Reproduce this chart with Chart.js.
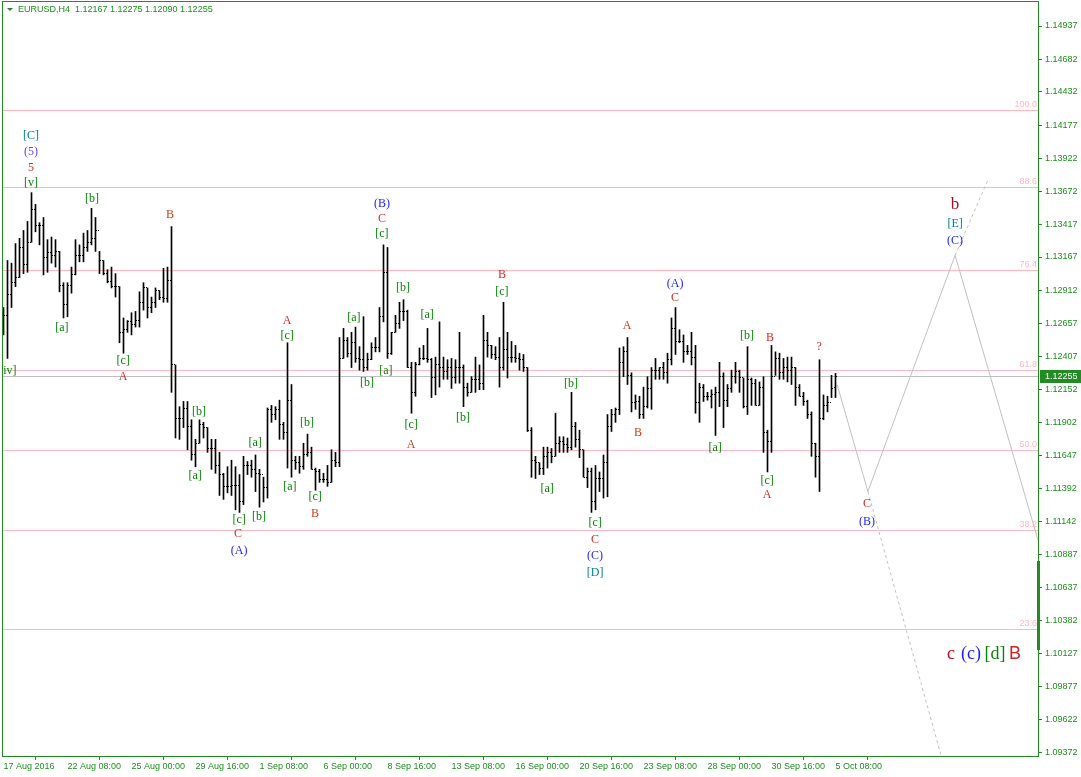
<!DOCTYPE html>
<html>
<head>
<meta charset="utf-8">
<title>EURUSD,H4</title>
<script src="https://cdn.jsdelivr.net/npm/chart.js@4.4.1/dist/chart.umd.min.js"></script>
<style>
  html, body { margin: 0; padding: 0; background: #fff; }
  #wrap { position: relative; width: 1081px; height: 777px; }
</style>
</head>
<body>
<div id="wrap"><canvas id="chart" width="1081" height="777"></canvas></div>
<script>
// Header
const headerText = 'EURUSD,H4  1.12167 1.12275 1.12090 1.12255';

// H4 bars, 17 Aug 16:00 .. 5 Oct 08:00
const opens = [
    1.1265, 1.1272, 1.1288, 1.1297, 1.1301, 1.1324, 1.1311, 1.1328, 1.1353, 1.1341,
    1.1341, 1.1316, 1.1320, 1.1318, 1.1321, 1.1295, 1.1280, 1.1295, 1.1303, 1.1318,
    1.1318, 1.1324, 1.1328, 1.1331, 1.1337, 1.1314, 1.1304, 1.1298, 1.1294, 1.1294,
    1.1259, 1.1261, 1.1267, 1.1265, 1.1268, 1.1282, 1.1293, 1.1278, 1.1282, 1.1291,
    1.1286, 1.1285, 1.1299, 1.1234, 1.1193, 1.1193, 1.1201, 1.1187, 1.1165, 1.1174,
    1.1188, 1.1186, 1.1170, 1.1170, 1.1157, 1.1150, 1.1141, 1.1141, 1.1142, 1.1142,
    1.1129, 1.1157, 1.1157, 1.1154, 1.1151, 1.1150, 1.1140, 1.1200, 1.1196, 1.1200,
    1.1188, 1.1182, 1.1207, 1.1161, 1.1159, 1.1156, 1.1165, 1.1167, 1.1154, 1.1152,
    1.1146, 1.1146, 1.1144, 1.1161, 1.1159, 1.1239, 1.1253, 1.1243, 1.1251, 1.1239,
    1.1238, 1.1232, 1.1238, 1.1247, 1.1247, 1.1271, 1.1305, 1.1243, 1.1259, 1.1266,
    1.1275, 1.1275, 1.1232, 1.1213, 1.1234, 1.1239, 1.1239, 1.1238, 1.1224, 1.1234,
    1.1232, 1.1229, 1.1232, 1.1224, 1.1232, 1.1232, 1.1217, 1.1213, 1.1223, 1.1223,
    1.1220, 1.1253, 1.1249, 1.1242, 1.1240, 1.1232, 1.1246, 1.1240, 1.1240, 1.1239,
    1.1238, 1.1232, 1.1184, 1.1161, 1.1159, 1.1155, 1.1164, 1.1167, 1.1164, 1.1174,
    1.1175, 1.1173, 1.1171, 1.1187, 1.1177, 1.1169, 1.1148, 1.1152, 1.1129, 1.1147,
    1.1147, 1.1159, 1.1187, 1.1196, 1.1200, 1.1236, 1.1244, 1.1226, 1.1205, 1.1206,
    1.1196, 1.1202, 1.1216, 1.1230, 1.1230, 1.1232, 1.1228, 1.1238, 1.1262, 1.1252,
    1.1252, 1.1244, 1.1244, 1.1240, 1.1205, 1.1217, 1.1210, 1.1210, 1.1211, 1.1213,
    1.1225, 1.1207, 1.1216, 1.1225, 1.1229, 1.1224, 1.1202, 1.1223, 1.1220, 1.1203,
    1.1217, 1.1182, 1.1175, 1.1225, 1.1239, 1.1228, 1.1232, 1.1230, 1.1232, 1.1217,
    1.1210, 1.1206, 1.1196, 1.1174, 1.1164, 1.1193, 1.1203, 1.1205, 1.12167
];
const highs = [
    1.1278, 1.1314, 1.1312, 1.1327, 1.1331, 1.1337, 1.1344, 1.1366, 1.1357, 1.1343,
    1.1347, 1.1330, 1.1332, 1.1330, 1.1321, 1.1297, 1.1297, 1.1309, 1.1330, 1.1326,
    1.1335, 1.1337, 1.1354, 1.1347, 1.1321, 1.1314, 1.1307, 1.1309, 1.1304, 1.1294,
    1.1270, 1.1268, 1.1274, 1.1275, 1.1290, 1.1297, 1.1293, 1.1286, 1.1293, 1.1291,
    1.1308, 1.1309, 1.1340, 1.1234, 1.1202, 1.1206, 1.1206, 1.1192, 1.1177, 1.1192,
    1.1190, 1.1186, 1.1177, 1.1177, 1.1167, 1.1151, 1.1156, 1.1161, 1.1156, 1.1150,
    1.1164, 1.1160, 1.1161, 1.1165, 1.1154, 1.1148, 1.1201, 1.1203, 1.1202, 1.1207,
    1.1190, 1.1251, 1.1219, 1.1164, 1.1164, 1.1174, 1.1181, 1.1171, 1.1155, 1.1154,
    1.1151, 1.1157, 1.1169, 1.1167, 1.1255, 1.1262, 1.1255, 1.1259, 1.1263, 1.1248,
    1.1271, 1.1243, 1.1251, 1.1255, 1.1278, 1.1326, 1.1324, 1.1259, 1.1272, 1.1282,
    1.1284, 1.1276, 1.1236, 1.1236, 1.1247, 1.1249, 1.1262, 1.1239, 1.1240, 1.1267,
    1.1240, 1.1238, 1.1239, 1.1238, 1.1259, 1.1234, 1.1220, 1.1225, 1.1240, 1.1234,
    1.1272, 1.1259, 1.1249, 1.1248, 1.1255, 1.1282, 1.1259, 1.1252, 1.1249, 1.1243,
    1.1242, 1.1232, 1.1186, 1.1164, 1.1159, 1.1171, 1.1171, 1.1170, 1.1197, 1.1179,
    1.1179, 1.1178, 1.1213, 1.1190, 1.1184, 1.1169, 1.1155, 1.1155, 1.1157, 1.1152,
    1.1165, 1.1196, 1.1200, 1.1201, 1.1247, 1.1248, 1.1255, 1.1228, 1.1211, 1.1210,
    1.1217, 1.1225, 1.1232, 1.1239, 1.1232, 1.1236, 1.1243, 1.1270, 1.1278, 1.1261,
    1.1257, 1.1249, 1.1259, 1.1249, 1.1220, 1.1219, 1.1213, 1.1215, 1.1217, 1.1236,
    1.1228, 1.1219, 1.1230, 1.1236, 1.1230, 1.1224, 1.1248, 1.1224, 1.1223, 1.1221,
    1.1225, 1.1184, 1.1249, 1.1244, 1.1243, 1.1239, 1.1240, 1.1240, 1.1232, 1.1219,
    1.1213, 1.1207, 1.1198, 1.1174, 1.1238, 1.1211, 1.1210, 1.1226, 1.12275
];
const lows = [
    1.1257, 1.1239, 1.1278, 1.1294, 1.1301, 1.1304, 1.1305, 1.1328, 1.1336, 1.1326,
    1.1303, 1.1305, 1.1312, 1.1309, 1.1290, 1.1270, 1.1271, 1.1289, 1.1303, 1.1313,
    1.1313, 1.1321, 1.1326, 1.1321, 1.1304, 1.1303, 1.1297, 1.1293, 1.1286, 1.1251,
    1.1243, 1.1259, 1.1257, 1.1263, 1.1263, 1.1276, 1.1270, 1.1274, 1.1278, 1.1284,
    1.1282, 1.1282, 1.1213, 1.1178, 1.1177, 1.1186, 1.1169, 1.1161, 1.1156, 1.1174,
    1.1178, 1.1167, 1.1154, 1.1151, 1.1134, 1.1131, 1.1136, 1.1134, 1.1123, 1.1121,
    1.1127, 1.1150, 1.1148, 1.1137, 1.1125, 1.1129, 1.1132, 1.1190, 1.1192, 1.1177,
    1.1177, 1.1155, 1.1148, 1.1154, 1.1151, 1.1154, 1.1164, 1.1154, 1.1138, 1.1144,
    1.1144, 1.1141, 1.1144, 1.1156, 1.1156, 1.1239, 1.1240, 1.1232, 1.1236, 1.1230,
    1.1229, 1.1230, 1.1238, 1.1244, 1.1244, 1.1267, 1.1239, 1.1242, 1.1259, 1.1262,
    1.1268, 1.1232, 1.1197, 1.1210, 1.1234, 1.1238, 1.1236, 1.1209, 1.1211, 1.1217,
    1.1223, 1.1223, 1.1216, 1.1220, 1.1220, 1.1202, 1.1210, 1.1213, 1.1213, 1.1215,
    1.1215, 1.1240, 1.1239, 1.1238, 1.1217, 1.1230, 1.1224, 1.1236, 1.1236, 1.1230,
    1.1229, 1.1183, 1.1148, 1.1147, 1.1150, 1.1150, 1.1155, 1.1159, 1.1164, 1.1167,
    1.1167, 1.1167, 1.1169, 1.1171, 1.1163, 1.1148, 1.1140, 1.1121, 1.1123, 1.1137,
    1.1132, 1.1133, 1.1183, 1.1190, 1.1196, 1.1225, 1.1219, 1.1198, 1.1200, 1.1193,
    1.1193, 1.1201, 1.1200, 1.1223, 1.1223, 1.1223, 1.1220, 1.1234, 1.1242, 1.1251,
    1.1236, 1.1242, 1.1234, 1.1197, 1.1190, 1.1206, 1.1207, 1.1201, 1.1180, 1.1202,
    1.1186, 1.1202, 1.1213, 1.1220, 1.1213, 1.1201, 1.1196, 1.1203, 1.1203, 1.1203,
    1.1167, 1.1152, 1.1167, 1.1226, 1.1223, 1.1223, 1.1221, 1.1219, 1.1203, 1.1210,
    1.1203, 1.1193, 1.1164, 1.1148, 1.1137, 1.1192, 1.1198, 1.1209, 1.12090
];
const closes = [
    1.1272, 1.1288, 1.1297, 1.1301, 1.1324, 1.1311, 1.1328, 1.1353, 1.1341, 1.1341,
    1.1316, 1.1320, 1.1318, 1.1321, 1.1295, 1.1280, 1.1295, 1.1303, 1.1318, 1.1318,
    1.1324, 1.1328, 1.1331, 1.1337, 1.1314, 1.1304, 1.1298, 1.1294, 1.1294, 1.1259,
    1.1261, 1.1267, 1.1265, 1.1268, 1.1282, 1.1293, 1.1278, 1.1282, 1.1291, 1.1286,
    1.1285, 1.1299, 1.1234, 1.1193, 1.1193, 1.1201, 1.1187, 1.1165, 1.1174, 1.1188,
    1.1186, 1.1170, 1.1170, 1.1157, 1.1150, 1.1141, 1.1141, 1.1142, 1.1142, 1.1129,
    1.1157, 1.1157, 1.1154, 1.1151, 1.1150, 1.1140, 1.1200, 1.1196, 1.1200, 1.1188,
    1.1182, 1.1207, 1.1161, 1.1159, 1.1156, 1.1165, 1.1167, 1.1154, 1.1152, 1.1146,
    1.1146, 1.1144, 1.1161, 1.1159, 1.1239, 1.1253, 1.1243, 1.1251, 1.1239, 1.1238,
    1.1232, 1.1238, 1.1247, 1.1247, 1.1271, 1.1305, 1.1243, 1.1259, 1.1266, 1.1275,
    1.1275, 1.1232, 1.1213, 1.1234, 1.1239, 1.1239, 1.1238, 1.1224, 1.1234, 1.1232,
    1.1229, 1.1232, 1.1224, 1.1232, 1.1232, 1.1217, 1.1213, 1.1223, 1.1223, 1.1220,
    1.1253, 1.1249, 1.1242, 1.1240, 1.1232, 1.1246, 1.1240, 1.1240, 1.1239, 1.1238,
    1.1232, 1.1184, 1.1161, 1.1159, 1.1155, 1.1164, 1.1167, 1.1164, 1.1174, 1.1175,
    1.1173, 1.1171, 1.1187, 1.1177, 1.1169, 1.1148, 1.1152, 1.1129, 1.1147, 1.1147,
    1.1159, 1.1187, 1.1196, 1.1200, 1.1236, 1.1244, 1.1226, 1.1205, 1.1206, 1.1196,
    1.1202, 1.1216, 1.1230, 1.1230, 1.1232, 1.1228, 1.1238, 1.1262, 1.1252, 1.1252,
    1.1244, 1.1244, 1.1240, 1.1205, 1.1217, 1.1210, 1.1210, 1.1211, 1.1213, 1.1225,
    1.1207, 1.1216, 1.1225, 1.1229, 1.1224, 1.1202, 1.1223, 1.1220, 1.1203, 1.1217,
    1.1182, 1.1175, 1.1225, 1.1239, 1.1228, 1.1232, 1.1230, 1.1232, 1.1217, 1.1210,
    1.1206, 1.1196, 1.1174, 1.1164, 1.1193, 1.1203, 1.1205, 1.1216, 1.12255
];

// Time axis
const xTickBars = [0, 16, 32, 48, 64, 80, 96, 112, 128, 144, 160, 176, 192, 208];
const xTickLabels = ['17 Aug 2016', '22 Aug 08:00', '25 Aug 00:00', '29 Aug 16:00', '1 Sep 08:00',
    '6 Sep 00:00', '8 Sep 16:00', '13 Sep 08:00', '16 Sep 00:00', '20 Sep 16:00', '23 Sep 08:00',
    '28 Sep 00:00', '30 Sep 16:00', '5 Oct 08:00'];

// Price axis
const yTicks = [1.14937, 1.14682, 1.14432, 1.14177, 1.13922, 1.13672, 1.13417, 1.13167, 1.12912,
    1.12657, 1.12407, 1.12152, 1.11902, 1.11647, 1.11392, 1.11142, 1.10887, 1.10637, 1.10382,
    1.10127, 1.09877, 1.09622, 1.09372];

// Fibonacci retracement
const fibLevels = [100.0, 88.6, 76.4, 61.8, 50.0, 38.2, 23.6];
const fibHundred = 1.14293;
const fibZero = 1.09088;

// Forecast path (bar index, price)
const forecastX = [208.4, 216.1, 237.9, 258.6];
const forecastY = [1.1219, 1.1137, 1.1318, 1.1100];
const forecastDownX = [216.1, 235.0];
const forecastDownY = [1.1137, 1.0928];
const forecastUpX = [237.9, 246.0];
const forecastUpY = [1.1318, 1.1375];

// Wave labels: text, kind, bar index, price
const waveLabels = [
    ['[C]', 't', 6.9, 1.14094], ['(5)', 'p', 6.9, 1.13972], ['5', 'r', 6.9, 1.13849], ['[v]', 'g', 6.9, 1.13734],
    ['[iv]', 'g', 1.1, 1.12294],
    ['[a]', 'g', 14.6, 1.12623], ['[b]', 'g', 22.1, 1.13611], ['[c]', 'g', 29.9, 1.12370], ['A', 'r', 29.9, 1.12248],
    ['B', 'o', 41.6, 1.13489],
    ['[b]', 'g', 48.9, 1.11979], ['[a]', 'g', 47.9, 1.11489], ['[a]', 'g', 62.9, 1.11742], ['[c]', 'g', 58.9, 1.11152],
    ['[b]', 'g', 63.9, 1.11175], ['C', 'r', 58.6, 1.11045], ['(A)', 'b', 58.9, 1.10914],
    ['A', 'r', 70.9, 1.12677], ['[c]', 'g', 70.9, 1.12562], ['[b]', 'g', 75.9, 1.11895], ['[a]', 'g', 71.6, 1.11405],
    ['[c]', 'g', 77.9, 1.11328], ['B', 'o', 77.9, 1.11198],
    ['[a]', 'g', 87.6, 1.12700], ['[b]', 'g', 90.9, 1.12202], ['(B)', 'b', 94.6, 1.13573], ['C', 'r', 94.6, 1.13458],
    ['[c]', 'g', 94.6, 1.13343], ['[b]', 'g', 99.9, 1.12930], ['[a]', 'g', 95.6, 1.12294],
    ['[a]', 'g', 105.9, 1.12723], ['[c]', 'g', 101.9, 1.11880], ['A', 'o', 101.9, 1.11727], ['[b]', 'g', 114.9, 1.11933],
    ['B', 'r', 124.6, 1.13029], ['[c]', 'g', 124.6, 1.12899],
    ['[b]', 'g', 141.9, 1.12194], ['[a]', 'g', 135.9, 1.11389], ['[c]', 'g', 147.9, 1.11129], ['C', 'r', 147.9, 1.10999],
    ['(C)', 'b', 147.9, 1.10876], ['[D]', 't', 147.9, 1.10746],
    ['A', 'o', 155.9, 1.12638], ['B', 'o', 158.6, 1.11819], ['(A)', 'b', 167.9, 1.12960], ['C', 'r', 167.9, 1.12853],
    ['[a]', 'g', 177.9, 1.11704], ['[b]', 'g', 185.9, 1.12562], ['B', 'r', 191.6, 1.12546], ['[c]', 'g', 190.9, 1.11451],
    ['A', 'r', 190.9, 1.11343], ['?', 'r', 203.9, 1.12477],
    ['C', 'r', 215.9, 1.11275], ['(B)', 'b', 215.9, 1.11137],
    ['b', 'big', 237.9, 1.13566], ['[E]', 't', 237.9, 1.13420], ['(C)', 'b', 237.9, 1.13290],
    ['c', 'bigr', 236.9, 1.10125], ['(c)', 'bigb', 241.9, 1.10125], ['[d]', 'bigg', 247.9, 1.10125], ['B', 'bigB', 252.9, 1.10125]
];

const colors = {
    axis: '#1e8c1e',
    frame: '#238b23',
    fib: '#ffb6c1',
    bid: '#c0c0c0',
    forecast: '#c0c0c0',
    bar: '#000000',
};

const labelStyles = {
    g: { color: '#078207', font: '12px "Liberation Serif", serif' },
    r: { color: '#d42a2a', font: '12px "Liberation Serif", serif' },
    o: { color: '#c8401a', font: '12px "Liberation Serif", serif' },
    b: { color: '#1c1cff', font: '12px "Liberation Serif", serif' },
    t: { color: '#00808a', font: '12px "Liberation Serif", serif' },
    p: { color: '#6a3cff', font: '12px "Liberation Serif", serif' },
    big: { color: '#a0102a', font: '17px "Liberation Serif", serif' },
    bigr: { color: '#b01020', font: '18px "Liberation Serif", serif' },
    bigb: { color: '#1c1cff', font: '18px "Liberation Serif", serif' },
    bigg: { color: '#078207', font: '18px "Liberation Serif", serif' },
    bigB: { color: '#cc2222', font: '18px "Liberation Sans", sans-serif' },
};

// Draws MT4-like overlays: fib lines, bid line, open/close ticks, labels, frame
const mt4Plugin = {
    id: 'mt4',
    beforeDatasetsDraw(chart) {
        const { ctx, chartArea: a, scales: { x, y } } = chart;
        ctx.save();
        ctx.beginPath();
        ctx.rect(a.left, a.top, a.right - a.left, a.bottom - a.top);
        ctx.clip();
        ctx.lineWidth = 1;
        ctx.font = '9px "Liberation Sans", Arial, sans-serif';
        ctx.textAlign = 'right';
        ctx.textBaseline = 'bottom';
        fibLevels.forEach(lv => {
            const price = fibZero + (fibHundred - fibZero) * lv / 100;
            const py = Math.round(y.getPixelForValue(price)) + 0.5;
            ctx.strokeStyle = colors.fib;
            ctx.beginPath();
            ctx.moveTo(a.left, py);
            ctx.lineTo(a.right, py);
            ctx.stroke();
            ctx.fillStyle = colors.fib;
            ctx.fillText(lv.toFixed(1), a.right - 1, py - 1);
        });
        const by = Math.round(y.getPixelForValue(closes[closes.length - 1])) + 0.5;
        ctx.strokeStyle = colors.bid;
        ctx.beginPath();
        ctx.moveTo(a.left, by);
        ctx.lineTo(a.right, by);
        ctx.stroke();
        ctx.restore();
    },
    afterDatasetsDraw(chart) {
        const { ctx, chartArea: a, scales: { x, y } } = chart;
        ctx.save();
        ctx.beginPath();
        ctx.rect(a.left, a.top, a.right - a.left, a.bottom - a.top);
        ctx.clip();

        // open / close ticks
        ctx.fillStyle = colors.bar;
        for (let i = 0; i < closes.length; i++) {
            const px = Math.floor(x.getPixelForValue(i));
            const oy = Math.floor(y.getPixelForValue(opens[i]));
            const cy = Math.floor(y.getPixelForValue(closes[i]));
            ctx.fillRect(px - 1, oy, 1, 1);
            ctx.fillRect(px + 1, cy, 1, 1);
        }

        // wave labels
        ctx.textAlign = 'center';
        ctx.textBaseline = 'middle';
        waveLabels.forEach(([text, kind, bar, price]) => {
            const st = labelStyles[kind];
            ctx.font = st.font;
            ctx.fillStyle = st.color;
            ctx.fillText(text, x.getPixelForValue(bar), y.getPixelForValue(price));
        });
        ctx.restore();

        ctx.save();
        // frame
        ctx.fillStyle = colors.frame;
        ctx.fillRect(a.left, 1, 1, a.bottom);
        ctx.fillRect(a.right, 1, 1, a.bottom);
        ctx.fillRect(a.left, 1, a.right - a.left + 1, 1);
        ctx.fillRect(a.left, a.bottom, a.right - a.left + 1, 1);
        ctx.fillRect(a.right - 1, 561, 3, 89);

        // header
        ctx.beginPath();
        ctx.moveTo(7, 8);
        ctx.lineTo(13, 8);
        ctx.lineTo(10, 11);
        ctx.closePath();
        ctx.fill();
        ctx.font = '9px "Liberation Sans", Arial, sans-serif';
        ctx.textAlign = 'left';
        ctx.textBaseline = 'middle';
        ctx.fillStyle = colors.axis;
        ctx.fillText(headerText, 18, 10);

        // current price box
        const last = closes[closes.length - 1];
        const ly = Math.round(y.getPixelForValue(last));
        ctx.fillStyle = colors.frame;
        ctx.fillRect(a.right + 2, ly - 6, chart.width - a.right - 2, 13);
        ctx.fillStyle = '#ffffff';
        ctx.fillText(last.toFixed(5), a.right + 7, ly + 0.5);
        ctx.restore();
    }
};

const ctx = document.getElementById('chart').getContext('2d');
new Chart(ctx, {
    type: 'bar',
    data: {
        datasets: [
            {
                type: 'bar',
                data: highs.map((h, i) => ({ x: i, y: [lows[i], h] })),
                backgroundColor: colors.bar,
                borderWidth: 0,
                barThickness: 1,
                order: 0,
            },
            {
                type: 'line',
                data: forecastX.map((v, i) => ({ x: v, y: forecastY[i] })),
                borderColor: colors.forecast,
                borderWidth: 1,
                pointRadius: 0,
                tension: 0,
                order: 1,
            },
            {
                type: 'line',
                data: forecastDownX.map((v, i) => ({ x: v, y: forecastDownY[i] })),
                borderColor: colors.forecast,
                borderWidth: 1,
                borderDash: [3, 3],
                pointRadius: 0,
                order: 2,
            },
            {
                type: 'line',
                data: forecastUpX.map((v, i) => ({ x: v, y: forecastUpY[i] })),
                borderColor: colors.forecast,
                borderWidth: 1,
                borderDash: [3, 3],
                pointRadius: 0,
                order: 3,
            },
        ]
    },
    options: {
        responsive: false,
        animation: false,
        devicePixelRatio: 1,
        layout: { padding: { left: 2, top: 2, right: 0, bottom: 0 } },
        plugins: {
            legend: { display: false },
            tooltip: { enabled: false },
        },
        scales: {
            x: {
                type: 'linear',
                min: -0.375,
                max: 258.625,
                bounds: 'data',
                offset: false,
                grid: { drawOnChartArea: false, drawTicks: true, tickLength: 4, tickColor: colors.frame, color: colors.frame },
                border: { display: false },
                ticks: {
                    autoSkip: false,
                    maxRotation: 0,
                    align: 'start',
                    padding: 1,
                    color: colors.axis,
                    font: { family: '"Liberation Sans", Arial, sans-serif', size: 9 },
                    callback: (v) => xTickLabels[xTickBars.indexOf(v)] ?? '',
                },
                afterBuildTicks: (scale) => { scale.ticks = xTickBars.map(v => ({ value: v })); },
                afterFit: (scale) => { scale.height = 21; scale.paddingLeft = 0; scale.paddingRight = 0; },
            },
            y: {
                type: 'linear',
                position: 'right',
                min: 1.093436,
                max: 1.151209,
                bounds: 'data',
                grid: { drawOnChartArea: false, drawTicks: true, tickLength: 4, tickColor: colors.frame, color: colors.frame },
                border: { display: false },
                ticks: {
                    autoSkip: false,
                    padding: 3,
                    color: colors.axis,
                    font: { family: '"Liberation Sans", Arial, sans-serif', size: 9 },
                    callback: (v) => Number(v).toFixed(5),
                },
                afterBuildTicks: (scale) => { scale.ticks = yTicks.map(v => ({ value: v })); },
                afterFit: (scale) => { scale.width = 43; scale.paddingTop = 0; scale.paddingBottom = 0; },
            },
        },
    },
    plugins: [mt4Plugin],
});
</script>
</body>
</html>
